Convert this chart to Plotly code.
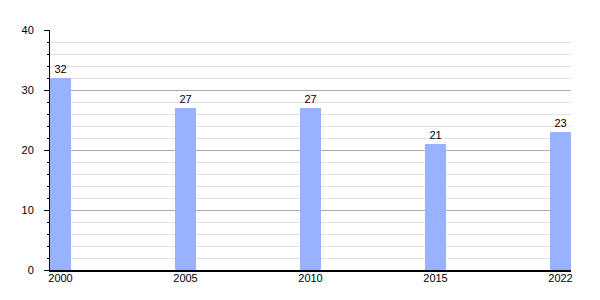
import plotly.graph_objects as go

years = ["2000", "2005", "2010", "2015", "2022"]
values = [32, 27, 27, 21, 23]
positions = list(range(len(years)))

bar_width = 0.168

fig = go.Figure(go.Bar(
    x=positions,
    y=values,
    width=bar_width,
    marker=dict(color="#99b2ff", line=dict(width=0)),
    text=[str(v) for v in values],
    textposition="outside",
    textfont=dict(family="Liberation Sans, Arial, sans-serif", size=11, color="#000"),
    cliponaxis=False,
))

fig.update_layout(
    width=600, height=300,
    margin=dict(l=50, r=29, t=30, b=30),
    plot_bgcolor="white", paper_bgcolor="white",
    showlegend=False,
    font=dict(family="Liberation Sans, Arial, sans-serif", size=11, color="#000"),
    xaxis=dict(
        range=[-bar_width / 2, len(years) - 1 + bar_width / 2],
        tickvals=positions, ticktext=years,
        showgrid=False, zeroline=False,
        showline=True, linecolor="#000", linewidth=1.5,
        ticks="", fixedrange=True,
        ticklabelstandoff=-3,
    ),
    yaxis=dict(
        range=[0, 40], dtick=10,
        showgrid=True, gridcolor="#aaaaaa", gridwidth=1,
        zeroline=False,
        showline=True, linecolor="#000", linewidth=1,
        ticks="outside", ticklen=5, tickcolor="#000",
        ticklabelstandoff=8,
        minor=dict(dtick=2, ticks="outside", ticklen=2, tickcolor="#000",
                   showgrid=True, gridcolor="#e2e2e2", gridwidth=1),
    ),
    bargap=0,
)

fig.write_html("out.html")
